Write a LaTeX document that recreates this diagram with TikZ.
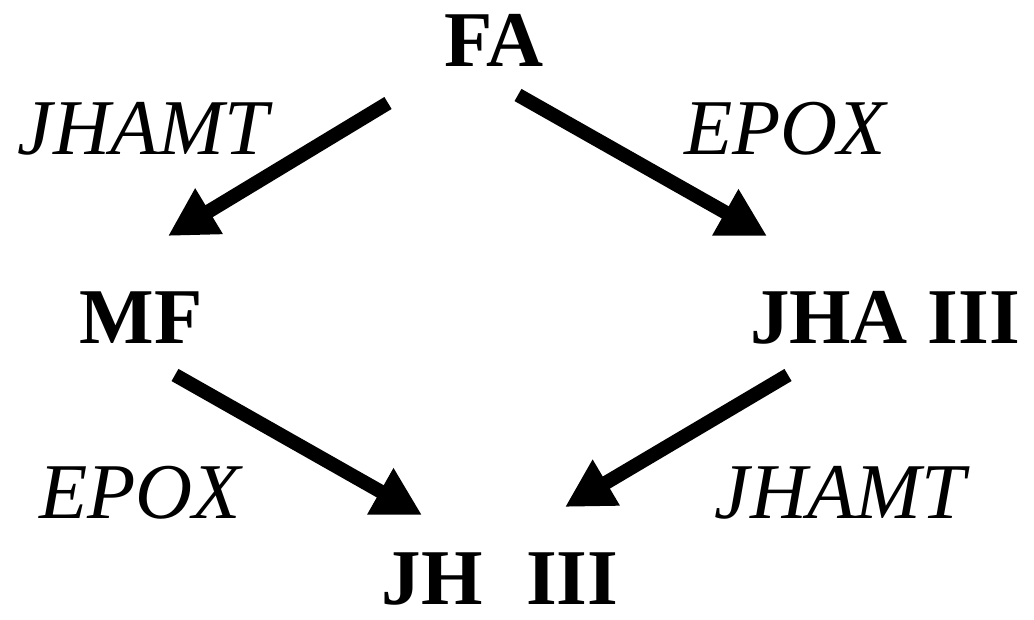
\documentclass[tikz,border=0pt]{standalone}
\usepackage{fontspec}
\setmainfont{Liberation Serif}
\usetikzlibrary{arrows.meta}
\begin{document}
\begin{tikzpicture}[x=1pt,y=-1pt,
  species/.style={inner sep=0pt,anchor=base,font=\fontsize{79}{90}\selectfont\bfseries},
  enzyme/.style={inner sep=0pt,anchor=base,font=\fontsize{79}{90}\selectfont\itshape},
  conv/.style={line width=14pt,-{Triangle[length=48pt,width=50pt]}}]
\useasboundingbox (0,0) rectangle (1034,620);
\node[species] (FA) at (494,67) {FA};
\node[species] (MF) at (141,344) {MF};
\node[species] (JHA) at (885,344) {JHA III};
\node[species] (JH) at (500,604) {JH\hspace{0.55em}III};
\node[enzyme] (e1) at (143,155) {JHAMT};
\node[enzyme] (e2) at (785,155) {EPOX};
\node[enzyme] (e3) at (140,518) {EPOX};
\node[enzyme] (e4) at (840,518) {JHAMT};
\coordinate (s1) at (388,103);
\coordinate (t1) at (168,236);
\coordinate (s2) at (518,95);
\coordinate (t2) at (767,236);
\coordinate (s3) at (175,375);
\coordinate (t3) at (422,515);
\coordinate (s4) at (788,375);
\coordinate (t4) at (565,507);
\draw[conv] (s1) -- (t1);
\draw[conv] (s2) -- (t2);
\draw[conv] (s3) -- (t3);
\draw[conv] (s4) -- (t4);
\end{tikzpicture}
\end{document}
